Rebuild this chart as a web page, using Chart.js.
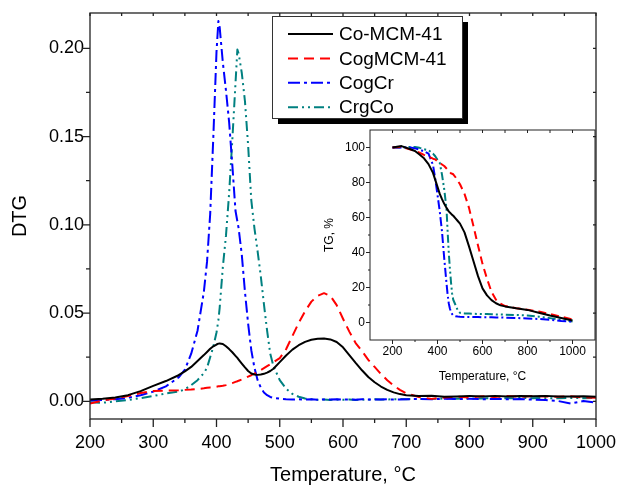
<!DOCTYPE html>
<html>
<head>
<meta charset="utf-8">
<script src="https://cdn.jsdelivr.net/npm/chart.js@4.4.1/dist/chart.umd.min.js"></script>
<style>
  body { margin: 0; background: #fff; }
  #wrap { position: relative; width: 617px; height: 485px; }
  canvas { position: absolute; }
</style>
</head>
<body>
<div id="wrap">
  <canvas id="dtg" width="617" height="485" style="left:0;top:0"></canvas>
  <canvas id="tg" width="297" height="275" style="left:320px;top:120px"></canvas>
</div>
<script>
// ── DTG data (main plot) ──────────────────────────────────
const temps = [200,220,240,260,280,300,320,340,350,360,370,380,385,390,395,400,
  403,405,410,415,420,425,430,433,435,440,445,450,455,460,465,470,475,480,485,490,
  500,510,520,530,540,550,560,570,580,590,600,610,620,630,640,650,660,670,680,690,
  700,720,740,760,780,800,820,840,860,880,900,920,940,960,980,1000];

const dtgCoMCM = [.001,.0015,.0022,.0035,.0058,.0088,.0115,.0148,.017,.0195,.0228,.0262,
  .028,.0298,.0312,.0322,.0327,.0328,.0325,.0312,.0296,.0278,.0258,.0246,.0237,.0214,
  .0192,.0172,.0158,.0152,.015,.0152,.0156,.0163,.0172,.0185,.0222,.026,.0293,.0318,
  .0337,.0349,.0355,.0356,.0351,.0336,.0306,.0262,.0218,.0176,.0138,.0108,.0084,.0065,
  .0051,.0041,.0035,.003,.0032,.0026,.0028,.0031,.0028,.0031,.0028,.003,.0029,.0031,
  .0028,.0027,.0029,.0026];

const dtgCogMCM = [-.0012,.0005,.0016,.003,.0047,.0058,.0061,.0063,.0065,.0067,.007,.0074,
  .0077,.0079,.0081,.0083,.0085,.0086,.0088,.0092,.0097,.0103,.011,.0114,.0117,.0124,
  .0132,.014,.0148,.0157,.0167,.0177,.0188,.0199,.021,.0222,.0245,.0295,.037,.0445,
  .051,.0565,.0598,.0613,.0598,.0545,.0468,.0395,.033,.0285,.0235,.0195,.0155,.012,
  .009,.0065,.0045,.0025,.0014,.0022,.0026,.0022,.0029,.0025,.003,.0026,.003,.0028,
  .0026,.0029,.0022,.002];

const dtgCogCr = [.0005,.0008,.0012,.002,.0035,.0055,.0085,.0135,.018,.027,.04,.062,
  .079,.106,.15,.198,.2154,.212,.192,.176,.158,.134,.108,.102,.098,.083,.062,.044,
  .029,.019,.012,.0078,.005,.0035,.0025,.002,.0015,.0012,.001,.0012,.001,.0012,.0009,
  .0011,.001,.0012,.001,.0011,.0009,.0012,.001,.0011,.001,.0012,.001,.0011,.0012,.0013,
  .0012,.0015,.0013,.0015,.0012,.0014,.0012,.0013,.001,.0008,.0002,-.0012,.0002,-.0008];

const dtgCrgCo = [-.0005,-.0008,0,.0008,.0018,.003,.0045,.0055,.0068,.0092,.012,.016,
  .019,.025,.031,.039,.046,.053,.076,.094,.118,.148,.18,.1993,.197,.186,.17,.145,
  .114,.098,.085,.071,.055,.04,.027,.02,.012,.0072,.0042,.0026,.0016,.0012,.0009,.0011,
  .0008,.001,.0009,.0011,.0008,.001,.0009,.0012,.001,.0011,.0012,.0013,.0012,.0014,
  .0013,.0016,.0015,.0017,.0016,.0018,.0017,.0019,.0018,.0019,.0017,.0019,.0018,.0019];

const tempTicks = [200,300,400,500,600,700,800,900,1000];
const dtgTicks  = [0,0.05,0.10,0.15,0.20];

// ── TG data (inset) ───────────────────────────────────────
const tgTemps = [200,240,280,300,320,340,360,380,390,400,410,420,430,440,445,450,455,460,
  465,470,480,490,500,520,540,560,580,600,620,640,660,680,700,750,800,850,900,950,1000];

const tgCoMCM = [100,100.8,99,98,96,93.8,90.5,85.5,81.5,77.5,73.5,70.5,67.8,65.5,64.5,
  63.5,62.8,62.2,61.5,61,59.5,58,56.5,51.5,43.5,35,26.5,19.5,15.5,12.8,11,9.8,9.2,
  8.1,7.2,5.6,4,2.6,1.1];
const tgCogMCM = [100,100.3,98.8,98,97,95.8,94.8,93.6,93.2,92.2,91.2,90.3,89.4,88,87.3,
  86.5,86,85.2,85,84.7,83,81,79,73.5,65.5,55,44,33.5,25,17.5,13,10.8,9.4,8.2,7.3,
  6.3,4.8,3.3,1.8];
const tgCogCr = [100,100,100,99.5,98.8,97.8,96.5,90,82,73,63.5,52,36.5,22.5,16,11,8,6,
  4.8,4,3.6,3.4,3.3,3.2,3.2,3.1,3.1,3,3,3,2.9,2.9,2.8,2.6,2.3,2,1.5,0.9,0.5];
const tgCrgCo = [100,100,100.3,100.3,99.8,99,98.5,96.5,95,93,91.2,84.5,76,65,52,40,31,
  23,16.5,13,10,7,5.5,5.2,5.1,5,4.9,4.8,4.8,4.7,4.6,4.6,4.5,4.3,4,3.3,2.5,1.5,0.6];

const tgTempTicks = [200,400,600,800,1000];
const tgTicks     = [0,20,40,60,80,100];

const seriesNames = ["Co-MCM-41", "CogMCM-41", "CogCr", "CrgCo"];
const FONT = '"Liberation Sans", Arial, sans-serif';

const pts = (xs, ys) => xs.map((x, i) => ({ x, y: ys[i] }));

function makeSets(xs, ys, dashes, width) {
  const colors = ["#000000", "#ff0000", "#0000ff", "#008080"];
  return ys.map((vals, i) => ({
    label: seriesNames[i],
    data: pts(xs, vals),
    borderColor: colors[i],
    borderDash: dashes[i],
    borderWidth: width,
    borderJoinStyle: "round",
    pointRadius: 0,
    tension: 0,
  }));
}

// ── Frame + tick marks drawn by hand (inward/outward, major/minor) ──
function tickLoop(from, to, step, fn) {
  const n = Math.round((to - from) / step);
  for (let k = 0; k <= n; k++) fn(from + k * step, k);
}

const frame = {
  id: "frame",
  afterDraw(chart, args, o) {
    const { ctx, chartArea: a, scales: { x, y } } = chart;
    ctx.save();
    ctx.strokeStyle = "#222";
    ctx.lineWidth = o.lw;
    ctx.strokeRect(a.left, a.top, a.right - a.left, a.bottom - a.top);
    ctx.beginPath();
    tickLoop(o.x[0], o.x[1], o.x[2], (v, k) => {
      const px = x.getPixelForValue(v);
      const len = k % o.x[3] === 0 ? o.outMajor : o.outMinor;
      ctx.moveTo(px, a.bottom); ctx.lineTo(px, a.bottom + len);
    });
    tickLoop(o.y[0], o.y[1], o.y[2], (v, k) => {
      const py = y.getPixelForValue(v);
      const len = k % o.y[3] === 0 ? o.outMajor : o.outMinor;
      ctx.moveTo(a.left, py); ctx.lineTo(a.left - len, py);
    });
    if (o.top) tickLoop(o.top[0], o.top[1], o.top[2], v => {
      const px = x.getPixelForValue(v);
      ctx.moveTo(px, a.top); ctx.lineTo(px, a.top + o.inLen);
    });
    if (o.right) tickLoop(o.right[0], o.right[1], o.right[2], v => {
      const py = y.getPixelForValue(v);
      ctx.moveTo(a.right, py); ctx.lineTo(a.right - o.inLen, py);
    });
    ctx.stroke();
    ctx.restore();
  }
};

// ── Legend box with drop shadow ───────────────────────────
const legendBox = {
  id: "legendBox",
  afterDraw(chart) {
    const ctx = chart.ctx;
    const bx = 272, by = 16, bw = 190, bh = 102;
    ctx.save();
    ctx.fillStyle = "#000";
    ctx.fillRect(bx + 6, by + 6, bw, bh);
    ctx.fillStyle = "#fff";
    ctx.fillRect(bx, by, bw, bh);
    ctx.strokeStyle = "#333";
    ctx.lineWidth = 1;
    ctx.strokeRect(bx + 0.5, by + 0.5, bw, bh);
    ctx.font = "19px " + FONT;
    ctx.textBaseline = "middle";
    chart.data.datasets.forEach((ds, i) => {
      const ry = by + 18 + i * 24.4;
      ctx.strokeStyle = ds.borderColor;
      ctx.lineWidth = 2;
      ctx.setLineDash(ds.borderDash);
      ctx.beginPath();
      ctx.moveTo(bx + 16, ry);
      ctx.lineTo(bx + 61, ry);
      ctx.stroke();
      ctx.setLineDash([]);
      ctx.fillStyle = "#000";
      ctx.fillText(ds.label, bx + 67, ry + 1);
    });
    ctx.restore();
  }
};

// fixed axis box; label overhang must not shrink the plot area
function pinAxis(prop, size) {
  return s => {
    s[prop] = size;
    s.paddingLeft = s.paddingRight = s.paddingTop = s.paddingBottom = 0;
  };
}

function axis(min, max, ticks, size, pad, fmt, fit, title, titleSize, titlePad) {
  return {
    type: "linear", min, max,
    afterBuildTicks: s => { s.ticks = ticks.map(v => ({ value: v })); },
    afterFit: fit,
    grid: { display: false, drawTicks: false },
    border: { display: false },
    ticks: { color: "#000", font: { size, family: FONT }, padding: pad,
             maxRotation: 0, autoSkip: false, callback: fmt },
    title: { display: true, text: title, color: "#000",
             font: { size: titleSize, family: FONT, lineHeight: 1 }, padding: titlePad },
  };
}

// ── Main DTG chart ────────────────────────────────────────
new Chart(document.getElementById("dtg"), {
  type: "line",
  data: {
    datasets: makeSets(temps, [dtgCoMCM, dtgCogMCM, dtgCogCr, dtgCrgCo],
      [[], [10, 6], [12, 4, 3, 4], [10, 4, 2, 4, 2, 4]], 2),
  },
  options: {
    responsive: false, animation: false,
    layout: { padding: { top: 13, right: 21, left: 0, bottom: 0 } },
    plugins: {
      legend: { display: false }, tooltip: { enabled: false },
      frame: { lw: 1.3, x: [200, 1000, 50, 2], y: [0, 0.2, 0.025, 2],
               outMajor: 8, outMinor: 4, inLen: 3,
               top: [200, 1000, 50], right: [0, 0.2, 0.025] },
    },
    scales: {
      x: axis(200, 1000, tempTicks, 18, 13, v => v, pinAxis("height", 66),
              "Temperature, °C", 20, { top: 0, bottom: 0 }),
      y: axis(-0.01, 0.22, dtgTicks, 18, 6, v => v.toFixed(2), pinAxis("width", 90),
              "DTG", 20, { top: 10, bottom: 0 }),
    },
  },
  plugins: [frame, legendBox],
});

// ── Inset TG chart ────────────────────────────────────────
new Chart(document.getElementById("tg"), {
  type: "line",
  data: {
    datasets: makeSets(tgTemps, [tgCoMCM, tgCogMCM, tgCogCr, tgCrgCo],
      [[], [8, 5], [9, 3, 2, 3], [8, 3, 2, 3, 2, 3]], 2),
  },
  options: {
    responsive: false, animation: false,
    layout: { padding: { top: 10, right: 22, left: 0, bottom: 0 } },
    plugins: {
      legend: { display: false }, tooltip: { enabled: false },
      frame: { lw: 1, x: [200, 1000, 100, 2], y: [0, 100, 10, 2],
               outMajor: 4, outMinor: 2, inLen: 3, top: [200, 1000, 100] },
    },
    scales: {
      x: axis(100, 1100, tgTempTicks, 12, 4, v => v, pinAxis("height", 55),
              "Temperature, °C", 12, { top: 0, bottom: 12 }),
      y: axis(-10, 110, tgTicks, 12, 5, v => v, pinAxis("width", 50),
              "TG, %", 12, { top: 4, bottom: 0 }),
    },
  },
  plugins: [frame],
});
</script>
</body>
</html>
